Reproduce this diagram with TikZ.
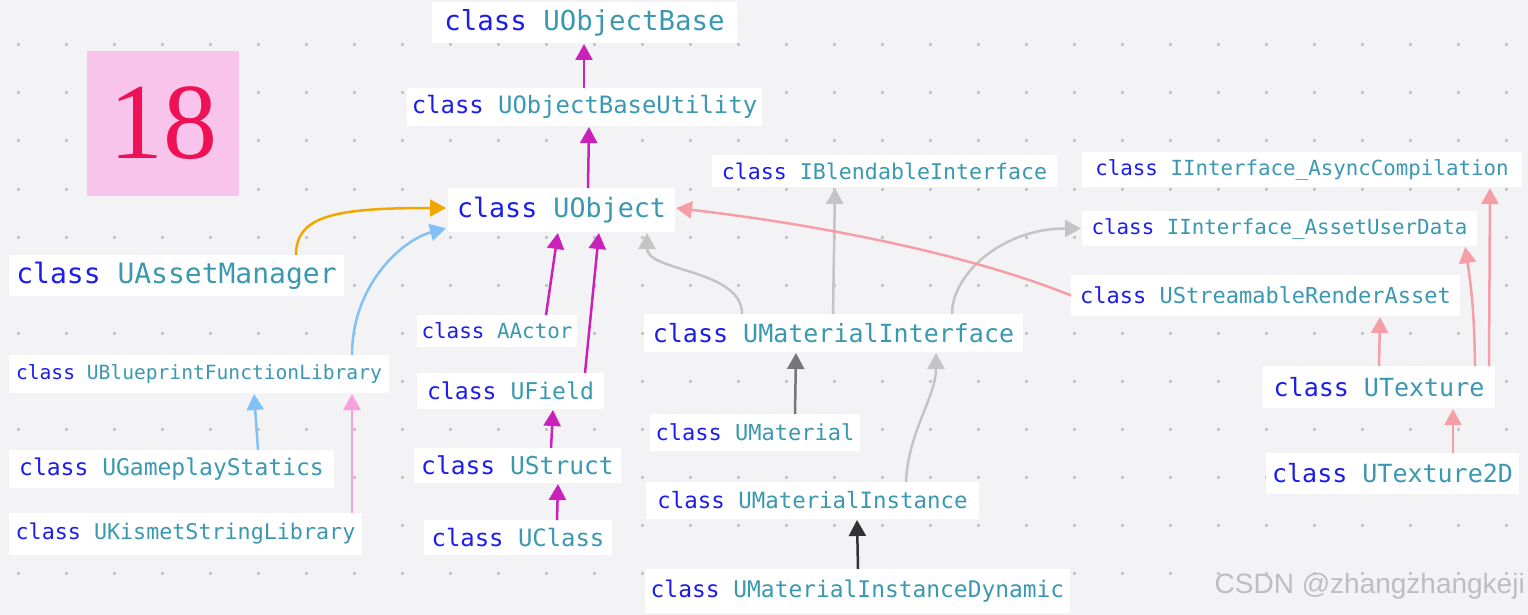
\documentclass[tikz,border=0pt]{standalone}
\usepackage{fontspec}
\setmonofont{DejaVu Sans Mono}
\newfontfamily\wmfont{Liberation Sans}
\newfontfamily\numfont{Liberation Serif}
\usetikzlibrary{arrows.meta}
\definecolor{bgc}{RGB}{243,243,245}
\definecolor{dotc}{RGB}{200,200,204}
\definecolor{clsblue}{RGB}{28,28,238}
\definecolor{nmteal}{RGB}{58,152,176}
\definecolor{pinkbox}{RGB}{248,196,236}
\definecolor{numred}{RGB}{238,17,85}
\definecolor{cmag}{RGB}{204,32,186}
\definecolor{corange}{RGB}{240,168,0}
\definecolor{cblue}{RGB}{128,194,248}
\definecolor{cpink}{RGB}{248,160,222}
\definecolor{cgray}{RGB}{196,196,196}
\definecolor{cmid}{RGB}{118,118,118}
\definecolor{cdark}{RGB}{50,50,50}
\definecolor{csalmon}{RGB}{246,158,168}
\definecolor{wmc}{RGB}{190,190,194}
\newcommand{\cls}[1]{\textcolor{clsblue}{class} \textcolor{nmteal}{#1}}
\tikzset{
  box/.style={fill=white, inner sep=0pt, outer sep=0pt},
  fsz/.style={font=\ttfamily\fontsize{#1}{#1}\selectfont},
  inh/.style={line width=2.5pt, -{Triangle[length=16pt,width=17pt]}, shorten >=1pt},
}
\begin{document}
\begin{tikzpicture}[x=1pt,y=-1pt]
\useasboundingbox (0,0) rectangle (1528,615);
\fill[bgc] (0,0) rectangle (1528,615);
\foreach \i in {0,...,31}{
  \foreach \j in {0,...,11}{
    \fill[dotc] ({18+48*\i-1.5},{45+48*\j-1.5}) rectangle ++(3,3);
  }
}
% number box
\node[fill=pinkbox, inner sep=0pt, minimum width=152pt, minimum height=145pt, text=numred,
  font=\numfont\fontsize{108}{108}\selectfont] (num) at (163,123.5) {18};
% class nodes
\node[box, fsz=27.4, minimum width=305pt, minimum height=41pt] (ub) at (584.5,22.5) {\cls{UObjectBase}};
\node[box, fsz=23.9, minimum width=355pt, minimum height=38pt] (ubu) at (584.5,107) {\cls{UObjectBaseUtility}};
\node[box, fsz=26.7, minimum width=227pt, minimum height=44pt] (uo) at (561.5,210) {\cls{UObject}};
\node[box, fsz=28, minimum width=335pt, minimum height=41pt] (uam) at (176.5,275.5) {\cls{UAssetManager}};
\node[box, fsz=19.6, minimum width=380pt, minimum height=38pt] (ubfl) at (199,374) {\cls{UBlueprintFunctionLibrary}};
\node[box, fsz=23, minimum width=325pt, minimum height=38pt] (ugs) at (171.5,469) {\cls{UGameplayStatics}};
\node[box, fsz=21.7, minimum width=353pt, minimum height=42pt] (uksl) at (185.5,534) {\cls{UKismetStringLibrary}};
\node[box, fsz=20.9, minimum width=160pt, minimum height=32pt] (aa) at (497,331) {\cls{AActor}};
\node[box, fsz=23.1, minimum width=187pt, minimum height=36pt] (uf) at (510.5,391) {\cls{UField}};
\node[box, fsz=24.6, minimum width=207pt, minimum height=35pt] (us) at (517.5,465.5) {\cls{UStruct}};
\node[box, fsz=23.9, minimum width=188pt, minimum height=35pt] (uc) at (518,537.5) {\cls{UClass}};
\node[box, fsz=25, minimum width=379pt, minimum height=38pt] (umi) at (833.5,333) {\cls{UMaterialInterface}};
\node[box, fsz=21.6, minimum width=345pt, minimum height=32pt] (ibi) at (884.5,171) {\cls{IBlendableInterface}};
\node[box, fsz=20.8, minimum width=440pt, minimum height=35pt] (iac) at (1302,169.5) {\cls{IInterface\_AsyncCompilation}};
\node[box, fsz=20.8, minimum width=395pt, minimum height=35pt] (iaud) at (1279.5,228.5) {\cls{IInterface\_AssetUserData}};
\node[box, fsz=22, minimum width=389pt, minimum height=41pt] (usra) at (1265.5,295.5) {\cls{UStreamableRenderAsset}};
\node[box, fsz=25, minimum width=232pt, minimum height=42pt] (ut) at (1379,387) {\cls{UTexture}};
\node[box, fsz=25, minimum width=253pt, minimum height=41pt] (ut2) at (1392.5,473.5) {\cls{UTexture2D}};
\node[box, fsz=22, minimum width=210pt, minimum height=37pt] (um) at (755,432.5) {\cls{UMaterial}};
\node[box, fsz=22.4, minimum width=333pt, minimum height=37pt] (umins) at (812.5,500.5) {\cls{UMaterialInstance}};
\node[box, fsz=22.9, minimum width=425pt, minimum height=44pt] (umid) at (857.5,591) {\cls{UMaterialInstanceDynamic}};
% connectors
\draw[inh, cmag] ([xshift=177pt]ubu.north west) -- ([xshift=152pt]ub.south west);
\draw[inh, cmag] ([xshift=140pt]uo.north west) -- ([xshift=182pt]ubu.south west);
\draw[inh, corange] ([xshift=287pt]uam.north west) .. controls +(0,-40) and +(-110,0) .. ([xshift=-1pt,yshift=2pt]uo.west);
\draw[inh, cblue] ([xshift=343pt]ubfl.north west) .. controls +(0,-70) and +(-45,12) .. ([xshift=-1pt,yshift=4pt]uo.south west);
\draw[inh, cmag] ([xshift=129pt]aa.north west) -- ([xshift=110pt]uo.south west);
\draw[inh, cmag] ([xshift=168pt]uf.north west) -- ([xshift=151pt]uo.south west);
\draw[inh, cmag] ([xshift=137pt]us.north west) -- ([xshift=136pt]uf.south west);
\draw[inh, cmag] ([xshift=133pt]uc.north west) -- ([xshift=144pt]us.south west);
\draw[inh, cgray] ([xshift=98pt]umi.north west) .. controls +(0,-45) and +(0,40) .. ([xshift=199pt]uo.south west);
\draw[inh, cgray] ([xshift=189pt]umi.north west) -- ([xshift=123pt]ibi.south west);
\draw[inh, cgray] ([xshift=308pt]umi.north west) .. controls +(0,-40) and +(-80,0) .. ([yshift=0pt]iaud.west);
\draw[inh, cmid] ([xshift=145pt]um.north west) -- ([xshift=152pt]umi.south west);
\draw[inh, cgray] ([xshift=260pt]umins.north west) .. controls +(2,-50) and +(0,45) .. ([xshift=292pt]umi.south west);
\draw[inh, cdark] ([xshift=213pt]umid.north west) -- ([xshift=211pt]umins.south west);
\draw[inh, csalmon] (usra.west) .. controls +(-111,-45) and +(123,14) .. ([yshift=2pt]uo.east);
\draw[inh, csalmon] ([xshift=116pt]ut.north west) -- ([xshift=309pt]usra.south west);
\draw[inh, csalmon] ([xshift=212pt]ut.north west) to[bend right=4] ([xshift=383pt]iaud.south west);
\draw[inh, csalmon] ([xshift=226pt]ut.north west) -- ([xshift=408pt]iac.south west);
\draw[inh, csalmon] ([xshift=187pt]ut2.north west) -- ([xshift=190pt]ut.south west);
\draw[inh, cblue] ([xshift=249pt]ugs.north west) -- ([xshift=245pt]ubfl.south west);
\draw[inh, cpink] ([xshift=343pt]uksl.north west) -- ([xshift=343pt]ubfl.south west);
% watermark
\node[text=wmc, font=\wmfont\fontsize{28}{28}\selectfont, anchor=east, inner sep=0pt] (wm) at (1525,586) {CSDN @zhangzhangkeji};
\end{tikzpicture}
\end{document}
